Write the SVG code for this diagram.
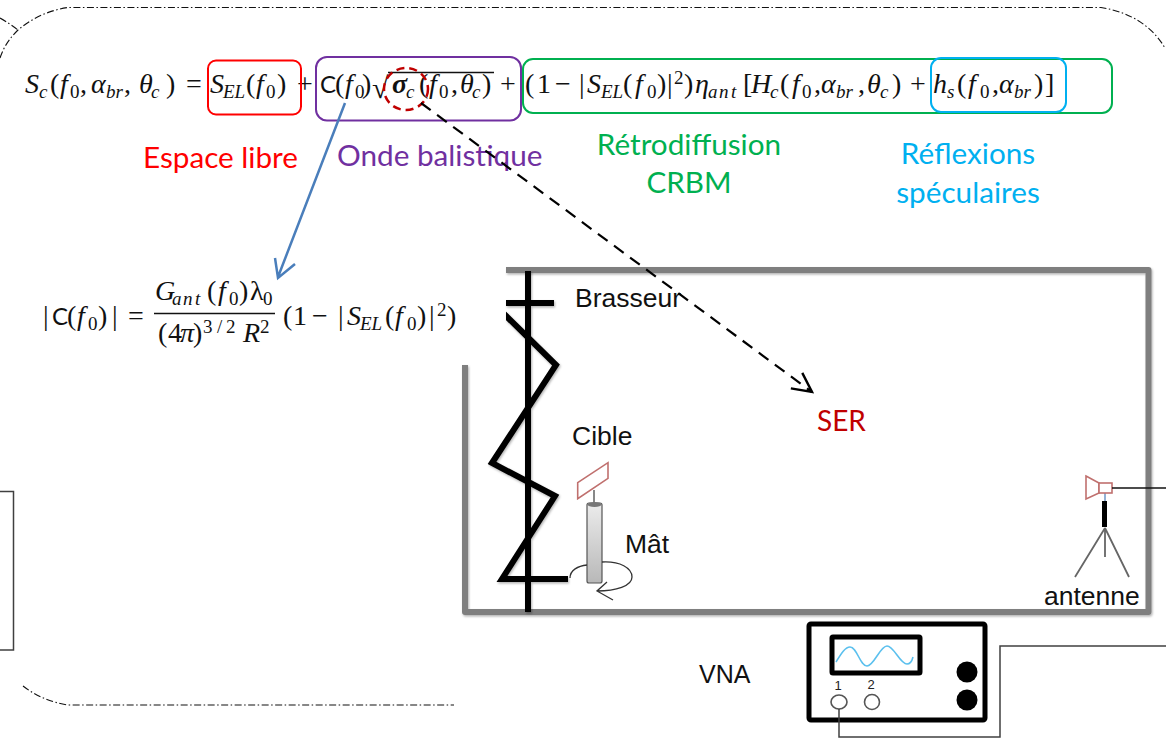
<svg xmlns="http://www.w3.org/2000/svg" width="1166" height="739" viewBox="0 0 1166 739">
<defs>
<style>
.m{font-family:"Liberation Serif",serif;font-size:28px;fill:#111}
.i{font-style:italic}
.s{font-size:19px}
.b{font-weight:bold}
.cc{font-family:Lato,sans-serif;font-size:24px}
.l{font-family:Lato,"Open Sans",sans-serif;font-size:29.700px}
.a{font-family:"Liberation Sans",Arial,sans-serif;font-size:26.500px;fill:#111}
.box{fill:none;stroke-width:2}
.wall{fill:none;stroke:#7f7f7f;stroke-width:6;stroke-linejoin:round}
.st{fill:none;stroke:#000;stroke-width:6;stroke-linejoin:miter}
.wire{fill:none;stroke:#404040;stroke-width:1.5}
.dd{fill:none;stroke:#111;stroke-width:1.1;stroke-dasharray:7 2.5 1.5 2.5}
.red{fill:#fff;stroke:#c0706e;stroke-width:1.6}
</style>
<marker id="openK" viewBox="0 0 20 20" refX="18" refY="10" markerWidth="24" markerHeight="24" markerUnits="userSpaceOnUse" orient="auto"><path d="M2 2L18 10L2 18" fill="none" stroke="#000" stroke-width="2"/></marker>
<linearGradient id="mast" x1="0" y1="0" x2="0" y2="1"><stop offset="0" stop-color="#ececec"/><stop offset="1" stop-color="#b8b8b8"/></linearGradient>
<filter id="sh" x="-10%" y="-10%" width="120%" height="120%"><feDropShadow dx="1" dy="1.5" stdDeviation="1.2" flood-color="#000" flood-opacity=".3"/></filter>
<clipPath id="cut"><path d="M506 260H600V620H440V370H506Z"/></clipPath>
</defs>
<rect width="1166" height="739" fill="#fff"/>

<g id="frame">
<path class="dd" d="M0 58C4 46 10 38 18 30C32 18 50 10 68 7.500H1101C1130 12 1152 26 1165 48"/>
<path class="dd" d="M0 18C7 22 13 26 18 30"/>
<path class="dd" d="M23 686C36 696 50 702 68 705H454"/>
</g>
<g id="left-box"><path class="wire" d="M0 491.500H13.500V650H0"/></g>

<g id="eq-main">
<text class="m"><tspan class="i" x="25" y="93">S</tspan><tspan class="i s" x="39" y="98">c</tspan><tspan x="50" y="93">(</tspan><tspan class="i" x="60" y="93">f</tspan><tspan class="s" x="70" y="98">0</tspan><tspan x="80" y="93">,</tspan><tspan class="i" x="91" y="93">α</tspan><tspan class="i s" x="106" y="98">br</tspan><tspan x="124" y="93">,</tspan><tspan class="i" x="139" y="93">θ</tspan><tspan class="i s" x="151" y="98">c</tspan><tspan x="166" y="93">)</tspan><tspan x="186" y="93">=</tspan><tspan class="i" x="210" y="93">S</tspan><tspan class="i s" x="223" y="98">EL</tspan><tspan x="246" y="93">(</tspan><tspan class="i" x="256" y="93">f</tspan><tspan class="s" x="266" y="98">0</tspan><tspan x="277" y="93">)</tspan><tspan x="297" y="93">+</tspan><tspan class="cc" x="320" y="93">C</tspan><tspan x="335" y="93">(</tspan><tspan class="i" x="345" y="93">f</tspan><tspan class="s" x="355" y="98">0</tspan><tspan x="362" y="93">)</tspan><tspan x="372" y="98" font-size="30">√</tspan><tspan class="i b" x="392" y="93">σ</tspan><tspan class="i s" x="406" y="98">c</tspan><tspan x="419" y="93">(</tspan><tspan class="i" x="429" y="93">f</tspan><tspan class="s" x="439" y="98">0</tspan><tspan x="451" y="93">,</tspan><tspan class="i" x="460" y="93">θ</tspan><tspan class="i s" x="472" y="98">c</tspan><tspan x="482" y="93">)</tspan><tspan x="500" y="93">+</tspan><tspan x="525" y="93">(</tspan><tspan x="537" y="93">1</tspan><tspan x="555" y="93">−</tspan><tspan x="579" y="93">|</tspan><tspan class="i" x="587" y="93">S</tspan><tspan class="i s" x="601" y="98">EL</tspan><tspan x="623" y="93">(</tspan><tspan class="i" x="635" y="93">f</tspan><tspan class="s" x="647" y="98">0</tspan><tspan x="657" y="93">)</tspan><tspan x="667" y="93">|</tspan><tspan class="s" x="674" y="84">2</tspan><tspan x="684" y="93">)</tspan><tspan class="i" x="695" y="93">η</tspan><tspan class="i s" x="708" y="98">a</tspan><tspan class="i s" x="719" y="98">n</tspan><tspan class="i s" x="731" y="98">t</tspan><tspan x="743" y="93">[</tspan><tspan class="i" x="751" y="93">H</tspan><tspan class="i s" x="770" y="98">c</tspan><tspan x="780" y="93">(</tspan><tspan class="i" x="792" y="93">f</tspan><tspan class="s" x="802" y="98">0</tspan><tspan x="814" y="93">,</tspan><tspan class="i" x="821" y="93">α</tspan><tspan class="i s" x="836" y="98">br</tspan><tspan x="858" y="93">,</tspan><tspan class="i" x="867" y="93">θ</tspan><tspan class="i s" x="880" y="98">c</tspan><tspan x="892" y="93">)</tspan><tspan x="910" y="93">+</tspan><tspan class="i" x="933" y="93">h</tspan><tspan class="i s" x="947" y="98">s</tspan><tspan x="957" y="93">(</tspan><tspan class="i" x="968" y="93">f</tspan><tspan class="s" x="980" y="98">0</tspan><tspan x="992" y="93">,</tspan><tspan class="i" x="999" y="93">α</tspan><tspan class="i s" x="1014" y="98">br</tspan><tspan x="1034" y="93">)</tspan><tspan x="1045" y="93">]</tspan></text>
<path d="M388 72.500H494" stroke="#111" stroke-width="1.300" fill="none"/>
</g>

<g id="eq-c">
<text class="m"><tspan x="43" y="325">|</tspan><tspan class="cc" x="52" y="325">C</tspan><tspan x="67" y="325">(</tspan><tspan class="i" x="77" y="325">f</tspan><tspan class="s" x="88" y="330">0</tspan><tspan x="98" y="325">)</tspan><tspan x="112" y="325">|</tspan><tspan x="128" y="325">=</tspan><tspan class="i" x="155" y="300">G</tspan><tspan class="i s" x="172" y="305">a</tspan><tspan class="i s" x="183" y="305">n</tspan><tspan class="i s" x="195" y="305">t</tspan><tspan x="207" y="300">(</tspan><tspan class="i" x="218" y="300">f</tspan><tspan class="s" x="229" y="305">0</tspan><tspan x="239" y="300">)</tspan><tspan x="250" y="300">λ</tspan><tspan class="s" x="263" y="305">0</tspan><tspan x="158" y="342">(</tspan><tspan x="168" y="342">4</tspan><tspan class="i" x="180" y="342">π</tspan><tspan x="193" y="342">)</tspan><tspan class="s" x="203" y="333">3</tspan><tspan class="s" x="217" y="333">/</tspan><tspan class="s" x="226" y="333">2</tspan><tspan class="i" x="243" y="342">R</tspan><tspan class="s" x="260" y="333">2</tspan><tspan x="283" y="325">(</tspan><tspan x="293" y="325">1</tspan><tspan x="312" y="325">−</tspan><tspan x="338" y="325">|</tspan><tspan class="i" x="347" y="325">S</tspan><tspan class="i s" x="360" y="330">EL</tspan><tspan x="385" y="325">(</tspan><tspan class="i" x="395" y="325">f</tspan><tspan class="s" x="407" y="330">0</tspan><tspan x="417" y="325">)</tspan><tspan x="429" y="325">|</tspan><tspan class="s" x="437" y="316">2</tspan><tspan x="447" y="325">)</tspan></text>
<path d="M154 313.500H275" stroke="#111" stroke-width="1.300" fill="none"/>
</g>

<g id="term-free-space">
<rect class="box" x="208" y="60.500" width="93" height="54" rx="8" stroke="#ff0000"/>
<text class="l" x="143" y="168" fill="#ff0000">Espace libre</text>
</g>
<g id="term-ballistic">
<rect class="box" x="316" y="57" width="205" height="63.500" rx="11" stroke="#7030a0"/>
<text class="l" x="337" y="166" fill="#7030a0">Onde balistique</text>
</g>
<g id="term-crbm">
<rect class="box" x="523" y="59" width="589" height="54" rx="10" stroke="#00b050"/>
<text class="l" x="689" y="155" fill="#00b050" text-anchor="middle">Rétrodiffusion</text>
<text class="l" x="689" y="193" fill="#00b050" text-anchor="middle">CRBM</text>
</g>
<g id="term-specular">
<rect class="box" x="931" y="58" width="135" height="54" rx="10" stroke="#00b0f0"/>
<text class="l" x="968" y="164" fill="#00b0f0" text-anchor="middle">Réflexions</text>
<text class="l" x="968" y="203" fill="#00b0f0" text-anchor="middle">spéculaires</text>
</g>
<g id="sigma-mark"><ellipse cx="406" cy="89" rx="22" ry="21" fill="none" stroke="#c00000" stroke-width="2.500" stroke-dasharray="8 5"/></g>

<g id="chamber" filter="url(#sh)">
<path class="wall" d="M506 270H1148.500V612H465V365"/>
</g>
<g id="stirrer" filter="url(#sh)">
<g clip-path="url(#cut)">
<path class="st" d="M528 271V612"/>
<path class="st" d="M506 303H554"/>
<path class="st" d="M496 306L556 365L492 463L555 496L502 579H568"/>
</g>
</g>
<g id="target">
<path d="M594 490V503" stroke="#888" stroke-width="2" fill="none"/>
<path d="M577.700 482.700L608 462.700V478.300L577.700 498.700Z" fill="none" stroke="#c0706e" stroke-width="1.600"/>
<rect x="587" y="503" width="15" height="80" rx="2" fill="url(#mast)" stroke="#555" stroke-width="1.200"/>
<ellipse cx="594.500" cy="504.500" rx="7" ry="2.500" fill="#777"/>
<path d="M570 578C570 570 578 566 587 565M602 562C620 561 632 568 632 577C632 586 616 591 597 591M607 582L597 591L613 600" fill="none" stroke="#333" stroke-width="1.300"/>
<text class="a" x="572" y="445">Cible</text>
<text class="a" x="625" y="553">Mât</text>
</g>
<g id="stirrer-label"><text class="a" x="575" y="307">Brasseur</text></g>
<g id="antenna">
<path d="M1105 493V503" stroke="#4a7ebb" stroke-width="1.200" fill="none"/>
<path d="M1104.500 501V527" stroke="#000" stroke-width="5" fill="none"/>
<path d="M1105 528L1075 577M1105 528L1129 577M1105 528V557" stroke="#666" stroke-width="1.800" fill="none"/>
<path class="red" d="M1086 476L1099 483V493L1086 499Z"/>
<rect class="red" x="1099" y="483" width="13" height="10"/>
<text class="a" x="1044" y="605">antenne</text>
</g>
<g id="vna">
<rect x="809" y="624" width="176" height="96" rx="2" fill="#fff" stroke="#000" stroke-width="5"/>
<rect x="832" y="637" width="88" height="36" rx="1" fill="#fff" stroke="#000" stroke-width="5"/>
<path d="M836 662C841 654 845 647 850 647C857 647 860 666 867 666C874 666 880 646 887 646C894 646 900 664 907 664C910 664 912 661 913 657" fill="none" stroke="#5bc0ee" stroke-width="1.600"/>
<circle cx="967" cy="672" r="10.500" fill="#000"/>
<circle cx="967" cy="700" r="10.500" fill="#000"/>
<ellipse cx="839" cy="702" rx="8" ry="7" fill="#fff" stroke="#555" stroke-width="1.600"/>
<circle cx="872" cy="702" r="7.500" fill="#fff" stroke="#555" stroke-width="1.600"/>
<text x="838" y="690" font-family="Liberation Sans,Arial,sans-serif" font-size="13" text-anchor="middle" fill="#222">1</text>
<text x="871" y="689" font-family="Liberation Sans,Arial,sans-serif" font-size="13" text-anchor="middle" fill="#222">2</text>
<text class="a" x="699" y="683" style="font-size:25px">VNA</text>
</g>
<g id="ser"><text class="l" x="817" y="431" fill="#c00000" style="font-size:28px">SER</text></g>

<g id="connectors">
<path class="wire" d="M839 709V737H1000V646H1166"/>
<path d="M1112 488H1166" stroke="#111" stroke-width="1.300" fill="none"/>
<path d="M345 103L278 277M275 258L278 278L295 264" fill="none" stroke="#4a7ebb" stroke-width="2.500"/>
<path d="M421 103L812 392" fill="none" stroke="#000" stroke-width="2.200" stroke-dasharray="12 8" marker-end="url(#openK)"/>
</g>
</svg>
